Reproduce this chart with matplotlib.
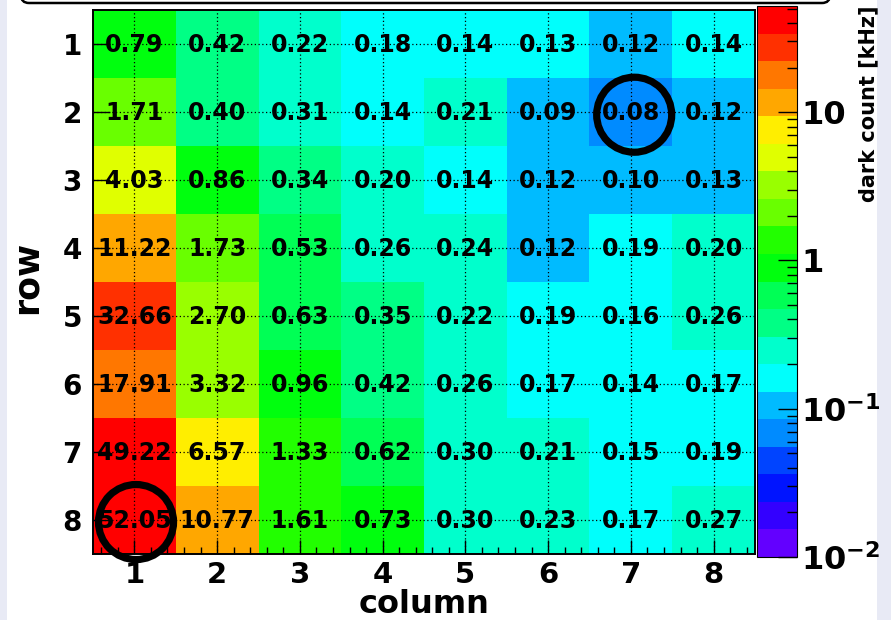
import colorsys
import numpy as np
import matplotlib
matplotlib.use("Agg")
import matplotlib.pyplot as plt
from matplotlib.colors import ListedColormap, LogNorm
from matplotlib.patches import Ellipse, Rectangle, FancyBboxPatch
from matplotlib.ticker import FixedLocator, MultipleLocator, NullFormatter

plt.rcParams["font.family"] = ["DejaVu Sans"]
plt.rcParams["font.weight"] = "bold"
plt.rcParams["mathtext.fontset"] = "dejavusans"

rows = [1, 2, 3, 4, 5, 6, 7, 8]
columns = [1, 2, 3, 4, 5, 6, 7, 8]

# dark count per channel [kHz], one list per row
row1 = [0.79, 0.42, 0.22, 0.18, 0.14, 0.131, 0.12, 0.14]
row2 = [1.71, 0.40, 0.306, 0.14, 0.21, 0.09, 0.08, 0.12]
row3 = [4.03, 0.86, 0.34, 0.20, 0.14, 0.12, 0.10, 0.129]
row4 = [11.22, 1.73, 0.53, 0.26, 0.24, 0.12, 0.19, 0.20]
row5 = [32.66, 2.70, 0.63, 0.35, 0.22, 0.19, 0.16, 0.26]
row6 = [17.91, 3.32, 0.96, 0.42, 0.26, 0.17, 0.14, 0.17]
row7 = [49.22, 6.57, 1.33, 0.62, 0.30, 0.21, 0.15, 0.19]
row8 = [52.05, 10.77, 1.61, 0.73, 0.30, 0.23, 0.17, 0.27]

# channels marked with a ring: (column, row)
hottest = (1.02, 8.03)
coldest = (7.04, 2.04)

zmin = 0.01
n_contours = 20

counts = np.array([row1, row2, row3, row4, row5, row6, row7, row8])
zmax = counts.max()

# ROOT "pretty" palette: 50 hues violet -> red, sampled at 20 contour levels
pretty = [colorsys.hls_to_rgb((280 - (i + 1) * 5.6) / 360, 0.5, 1.0) for i in range(50)]
levels = [pretty[int((k + 0.99) * 50 / n_contours)] for k in range(n_contours)]
cmap = ListedColormap(levels)
norm = LogNorm(vmin=zmin, vmax=zmax)

fig = plt.figure(figsize=(8.91, 6.2), dpi=100, facecolor="#e8eaf5")
fig.add_artist(Rectangle((7 / 891, 0), 870 / 891, 1, transform=fig.transFigure,
                         facecolor="white", edgecolor="none", zorder=-10))
fig.add_artist(FancyBboxPatch((0.21, 6.17), 8.09, 1.0, transform=fig.dpi_scale_trans,
                              boxstyle="round,pad=0,rounding_size=0.08",
                              facecolor="white", edgecolor="black", linewidth=1.8))

ax = fig.add_axes([93 / 891, 66 / 620, 662 / 891, 544 / 620])
x_edges = np.arange(0.5, 9.0, 1.0)
y_edges = np.arange(0.5, 9.0, 1.0)
mesh = ax.pcolormesh(x_edges, y_edges, counts, cmap=cmap, norm=norm)
ax.set_xlim(0.5, 8.5)
ax.set_ylim(8.5, 0.5)

for r in range(len(rows)):
    for c in range(len(columns)):
        ax.text(columns[c], rows[r] + 0.02, f"{counts[r, c]:.2f}", ha="center", va="center",
                fontsize=17, fontweight="bold", zorder=5)

ax.set_xticks(columns)
ax.set_yticks(rows)
ax.xaxis.set_minor_locator(MultipleLocator(0.2))
ax.tick_params(axis="x", which="major", direction="in", length=10, width=1,
               labelsize=21, pad=5, top=False)
ax.tick_params(axis="x", which="minor", direction="in", length=5, width=1, top=False)
ax.tick_params(axis="y", which="major", direction="in", length=12, width=1,
               labelsize=20, pad=8, right=False)
ax.grid(True, which="major", color="black", linestyle=(0, (1, 2)), linewidth=0.9)
ax.set_axisbelow(False)
for sp in ax.spines.values():
    sp.set_linewidth(1.4)

ax.set_xlabel("column", fontsize=23, fontweight="bold")
ax.xaxis.set_label_coords(0.5, -0.064)
ax.set_ylabel("row", fontsize=25, fontweight="bold")
ax.yaxis.set_label_coords(-0.074, 0.509)

for centre in (hottest, coldest):
    ax.add_patch(Ellipse(centre, 75 / 82.75, 75 / 68, fill=False, edgecolor="black",
                         linewidth=5.2, clip_on=False, zorder=6))

cax = fig.add_axes([757 / 891, 63 / 620, 40 / 891, 551 / 620])
cb = fig.colorbar(mesh, cax=cax)
cb.outline.set_linewidth(0.8)
cax.yaxis.set_ticks_position("right")
cax.set_yticks([0.01, 0.1, 1, 10],
               labels=[r"$\mathbf{10^{-2}}$", r"$\mathbf{10^{-1}}$", "1", "10"])
minor = [m * d for d in (0.01, 0.1, 1, 10) for m in range(2, 10) if m * d <= zmax]
cax.yaxis.set_minor_locator(FixedLocator(minor))
cax.yaxis.set_minor_formatter(NullFormatter())
cax.tick_params(which="major", direction="in", length=14, width=1, labelsize=23, pad=3)
cax.tick_params(which="minor", direction="in", length=7, width=1)

fig.text(868 / 891, 1 - 5 / 620, "dark count [kHz]", rotation=90, ha="center", va="top",
         fontsize=15, fontweight="bold")

fig.savefig("out.png", dpi=100, facecolor=fig.get_facecolor())
